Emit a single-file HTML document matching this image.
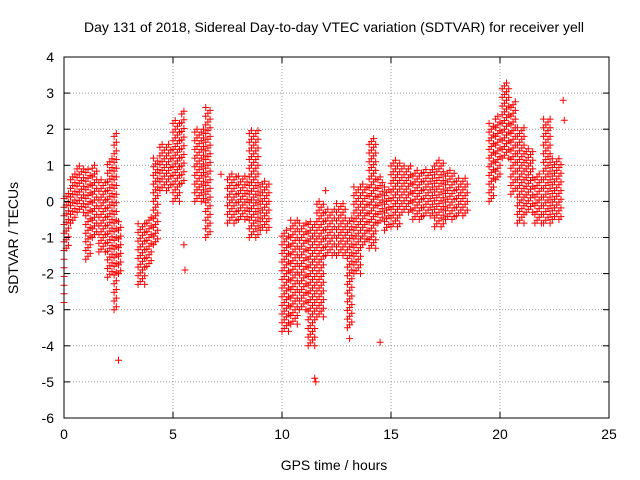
<!DOCTYPE html>
<html><head><meta charset="utf-8"><style>
body{margin:0;background:#fff;}
svg{display:block;font-family:"Liberation Sans",sans-serif;}
</style></head><body>
<svg id="chart" width="640" height="480">
<rect width="640" height="480" fill="#fff"/>
<text x="334" y="32" font-size="14" text-anchor="middle">Day 131 of 2018, Sidereal Day-to-day VTEC variation (SDTVAR) for receiver yell</text>
<text x="334" y="470" font-size="14" text-anchor="middle">GPS time / hours</text>
<text transform="translate(18,238) rotate(-90)" font-size="14" text-anchor="middle">SDTVAR / TECUs</text>
<g id="grid"></g><g id="marks"></g><g id="axes"></g>
</svg>
<script>
const xTicks=[0,5,10,15,20,25];
const yTicks=[4,3,2,1,0,-1,-2,-3,-4,-5,-6];
const segStart=[0.0,0.1,0.3,0.6,1.0,1.3,1.6,2.0,2.3,2.5,3.4,3.8,4.1,4.4,5.0,5.4,6.0,6.5,7.5,8.0,8.5,9.0,10.0,10.4,10.8,11.2,11.6,12.0,12.5,13.0,13.3,13.7,14.0,14.4,14.7,15.0,15.5,16.0,16.5,17.0,17.5,18.0,19.5,19.8,20.1,20.5,20.8,21.2,21.6,22.0,22.4];
const segEnd=  [0.1,0.3,0.6,1.0,1.3,1.6,2.0,2.3,2.5,2.7,3.8,4.1,4.4,5.0,5.4,5.6,6.5,6.8,8.0,8.5,9.0,9.5,10.4,10.8,11.2,11.6,12.0,12.5,13.0,13.3,13.7,14.0,14.4,14.7,15.0,15.5,16.0,16.5,17.0,17.5,18.0,18.6,19.8,20.1,20.5,20.8,21.2,21.6,22.0,22.4,22.9];
const segLow=  [-2.8,-1.3,-0.6,-0.3,-1.6,-1.0,-1.4,-2.1,-3.0,-2.0,-2.3,-1.8,-1.2,0.3,0.0,0.5,0.0,-1.0,-0.6,-0.5,-1.0,-0.8,-3.6,-3.4,-3.0,-4.0,-3.2,-1.5,-1.5,-3.5,-2.0,-1.2,-1.3,-0.6,-0.8,-0.7,-0.3,-0.5,-0.4,-0.7,-0.5,-0.4,0.0,0.6,1.2,0.2,-0.6,-0.3,-0.6,-0.6,-0.5];
const segHigh= [0.2,0.3,0.8,1.0,0.9,1.0,0.6,1.2,1.9,-0.5,-0.6,-0.4,1.2,1.6,2.3,2.6,2.0,2.6,0.8,0.7,2.0,0.6,-0.8,-0.5,-0.6,-0.5,0.0,-0.2,0.0,-0.4,0.4,0.5,1.8,0.7,0.4,1.2,1.0,0.9,0.9,1.2,0.9,0.7,2.2,2.4,3.3,2.8,2.1,1.5,0.8,2.3,1.2];
const extraT=[2.5,5.5,5.55,7.2,11.5,11.55,14.5,22.9,22.95,13.1,12.0];
const extraV=[-4.4,-1.2,-1.9,0.75,-4.9,-5.0,-3.9,2.8,2.25,-3.8,0.3];
const X0=64,X1=609,Y0=418,Y1=57;
const sx=t=>X0+(t-0)/(25-0)*(X1-X0);
const sy=v=>Y0-(v+6)/(10)*(Y0-Y1);
const NS="http://www.w3.org/2000/svg";
const g=document.getElementById('grid'),m=document.getElementById('marks'),a=document.getElementById('axes');
function el(tag,attrs,parent){const e=document.createElementNS(NS,tag);for(const k in attrs)e.setAttribute(k,attrs[k]);parent.appendChild(e);return e;}
xTicks.forEach(t=>{
 if(t>0&&t<25){const l=el('line',{x1:sx(t),x2:sx(t),y1:Y1,y2:Y0,stroke:'#999','stroke-dasharray':'1,2'},g);
 
 }
 const tx=el('text',{x:sx(t),y:Y0+21,'font-size':14,'text-anchor':'middle'},a);tx.textContent=t;
 
 
 el('line',{x1:sx(t),x2:sx(t),y1:Y0,y2:Y0-6,stroke:'#000'},a);
 el('line',{x1:sx(t),x2:sx(t),y1:Y1,y2:Y1+6,stroke:'#000'},a);
});
yTicks.forEach(v=>{
 if(v>-6&&v<4){const l=el('line',{x1:X0,x2:X1,y1:sy(v),y2:sy(v),stroke:'#999','stroke-dasharray':'1,2'},g);
 
 }
 const tx=el('text',{x:X0-10,y:sy(v)+5,'font-size':14,'text-anchor':'end'},a);tx.textContent=v;
 
 
 el('line',{x1:X0,x2:X0+6,y1:sy(v),y2:sy(v),stroke:'#000'},a);
 el('line',{x1:X1,x2:X1-6,y1:sy(v),y2:sy(v),stroke:'#000'},a);
});
const fr=el('rect',{x:X0,y:Y1,width:X1-X0,height:Y0-Y1,fill:'none',stroke:'#000'},a);


let d='';
function cross(px,py){d+=`M${(px-3.5).toFixed(1)} ${py.toFixed(1)}h7M${px.toFixed(1)} ${(py-3.5).toFixed(1)}v7`;}
for(let i=0;i<segStart.length;i++){
 let row=0;
 for(let t=segStart[i];t<segEnd[i]-1e-6;t+=0.1){
  const off=(row%3)*0.08;row++;
  for(let v=segLow[i]+off;v<=segHigh[i]+1e-6;v+=0.24)cross(sx(t),sy(v));
 }
}
for(let i=0;i<extraT.length;i++)cross(sx(extraT[i]),sy(extraV[i]));
const p=el('path',{d:d,stroke:'#f00','stroke-width':1,fill:'none'},m);


</script>
</body></html>
